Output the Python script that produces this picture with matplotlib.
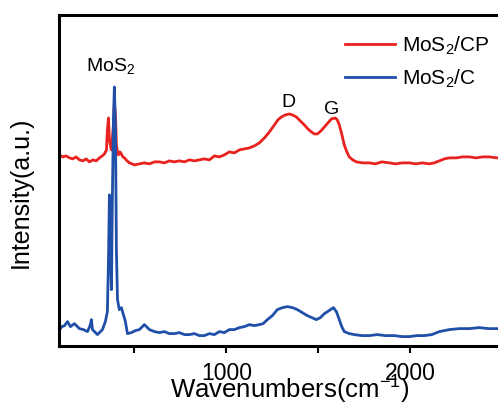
import matplotlib
matplotlib.use('Agg')
import matplotlib.pyplot as plt
from matplotlib.ticker import MultipleLocator

plt.rcParams['font.family'] = ['Liberation Sans', 'DejaVu Sans']
plt.rcParams['mathtext.fontset'] = 'custom'
plt.rcParams['mathtext.rm'] = 'Liberation Sans'
plt.rcParams['mathtext.it'] = 'Liberation Sans:italic'

# Raman spectra (wavenumber in cm-1, intensity in a.u.)
wn_cp = [92, 110, 128, 147, 165, 183, 201, 220, 238, 255, 275, 292, 310, 325, 337,
         348, 353, 359, 364, 370, 375, 386, 391, 397, 402, 408, 413, 421, 429, 437,
         446, 460, 473, 487, 500, 527, 554, 582, 609, 636, 663, 690, 717, 745, 772,
         799, 826, 853, 880, 908, 935, 962, 989, 1016, 1043, 1071, 1098, 1125, 1152,
         1179, 1207, 1234, 1261, 1280, 1299, 1320, 1342, 1360, 1380, 1402, 1424,
         1443, 1462, 1478, 1495, 1514, 1533, 1552, 1571, 1592, 1603, 1614, 1627,
         1641, 1655, 1668, 1687, 1707, 1740, 1777, 1810, 1845, 1886, 1920, 1955,
         1995, 2030, 2066, 2103, 2130, 2158, 2185, 2212, 2250, 2285, 2321, 2357,
         2393, 2429, 2473, 2520, 2560, 2600]
int_cp = [191, 189, 190, 188, 187, 189, 186, 185, 187, 184, 186, 185, 188, 190, 192,
          196, 216, 228, 206, 200, 196, 221, 244, 231, 201, 194, 191, 194, 192, 189,
          188, 185, 183, 182, 181, 182, 183, 182, 184, 184, 183, 185, 184, 185, 184,
          186, 185, 186, 187, 186, 190, 189, 191, 194, 193, 196, 197, 198, 200,
          203, 208, 214, 221, 226, 229, 231, 232, 231, 229, 225, 221,
          217, 214, 212, 212, 215, 219, 223, 227, 228, 226, 221, 212,
          201, 194, 189, 186, 184, 183, 183, 182, 184, 183, 182, 183,
          183, 182, 183, 182, 183, 185, 187, 188, 188, 189, 189, 188,
          189, 189, 188, 189, 188, 189]

wn_c = [92, 106, 120, 136, 152, 174, 201, 223, 245, 261, 266, 272, 299, 326, 342,
        353, 359, 364, 370, 375, 380, 386, 391, 397, 402, 408, 418, 429, 440, 451,
        462, 484, 505, 527, 554, 582, 609, 636, 663, 690, 717, 745, 772, 799, 826,
        853, 880, 908, 935, 962, 989, 1016, 1043, 1071, 1098, 1125, 1152, 1179,
        1200, 1223, 1250, 1277, 1305, 1332, 1360, 1386, 1413, 1440, 1465, 1489,
        1511, 1533, 1558, 1582, 1598, 1614, 1627, 1641, 1668, 1696, 1737, 1777,
        1820, 1865, 1913, 1955, 1995, 2035, 2076, 2117, 2158, 2212, 2266, 2320,
        2375, 2425, 2473, 2540, 2600]
int_c = [16, 19, 20, 24, 19, 22, 17, 16, 14, 21, 26, 16, 11, 16, 24,
         34, 86, 151, 96, 56, 146, 226, 259, 216, 96, 46, 36, 38, 31, 24,
         12, 13, 15, 16, 21, 16, 14, 13, 14, 12, 12, 13, 11, 11, 12,
         10, 10, 12, 11, 14, 13, 16, 16, 18, 19, 21, 20, 21,
         22, 26, 30, 36, 38, 39, 38, 36, 33, 30, 28, 26,
         28, 32, 35, 38, 34, 26, 19, 14, 12, 11, 10, 10,
         11, 10, 10, 9, 9, 10, 10, 11, 14, 16, 17, 17,
         18, 17, 17, 17, 17]

fig = plt.figure(figsize=(4.98, 4.05), dpi=100)
ax = fig.add_axes([0.1185, 0.1467, 0.927, 0.816])

ax.plot(wn_cp, int_cp, color='#e8231f', lw=2, label='MoS$_2$/CP')
ax.plot(wn_c, int_c, color='#1f4fa8', lw=2, label='MoS$_2$/C')

ax.set_xlim(90, 2600)
ax.set_ylim(0, 331)

ax.text(372, 270, 'MoS$_2$', fontsize=14, ha='center', va='bottom')
ax.text(1337, 235, 'D', fontsize=14, ha='center', va='bottom')
ax.text(1571, 228, 'G', fontsize=14, ha='center', va='bottom')

for s in ax.spines.values():
    s.set_linewidth(2.2)
ax.set_yticks([])
ax.xaxis.set_major_locator(MultipleLocator(1000))
ax.xaxis.set_minor_locator(MultipleLocator(500))
ax.tick_params(axis='x', which='both', direction='out', width=1.5, labelsize=16.5, pad=7,
               length=5)

ax.set_xlabel('Wavenumbers(cm$^{-1}$)', fontsize=18.5, labelpad=-8)
ax.set_ylabel('Intensity(a.u.)', fontsize=18)
ax.yaxis.set_label_coords(-0.056, 0.465)

leg = ax.legend(loc='center left', bbox_to_anchor=(326 / 498, 1 - 62 / 405),
                bbox_transform=fig.transFigure, frameon=False, fontsize=15,
                handlelength=2.4, handletextpad=0.35, labelspacing=0.5)

fig.savefig('out.png', dpi=100)
